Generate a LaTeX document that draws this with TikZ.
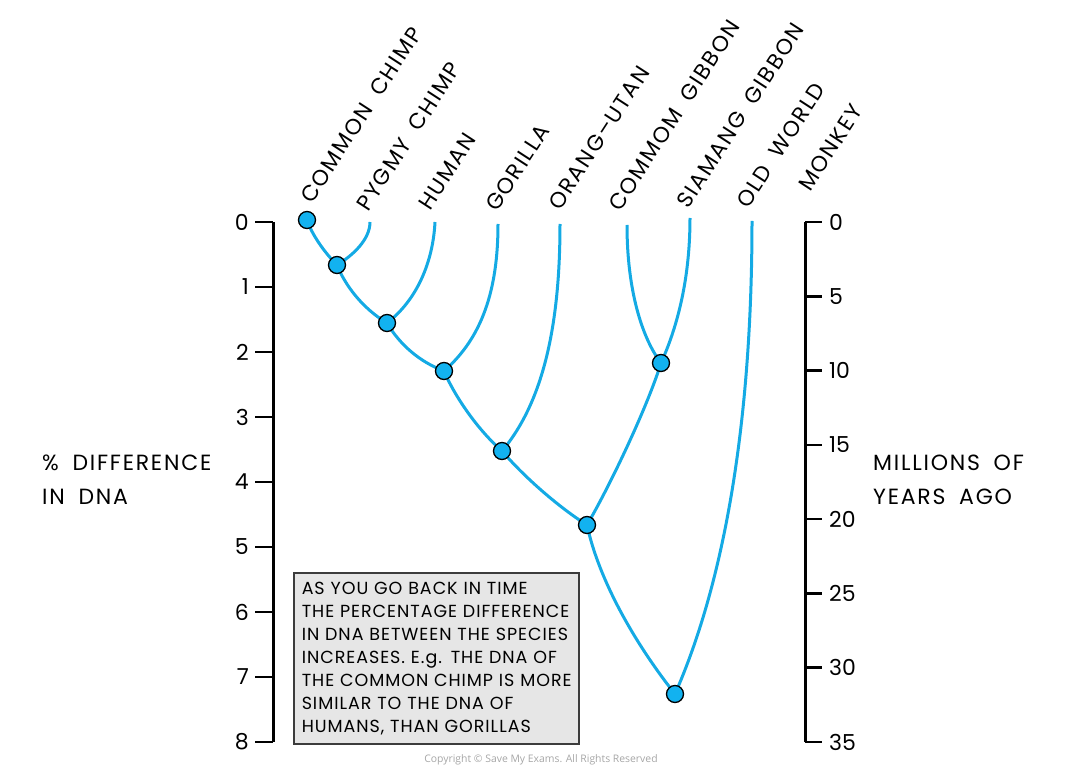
\documentclass[tikz,border=0pt]{standalone}
\usepackage{fontspec}
\setmainfont{Poppins}[LetterSpace=8, WordSpace=1.8]
\newfontfamily\boxfont{Poppins}[LetterSpace=5.5, WordSpace=1.7]
\newfontfamily\numfont{Poppins}
\newfontfamily\copyfont{Open Sans}
\usetikzlibrary{backgrounds}
\definecolor{lineblue}{RGB}{20,170,228}
\definecolor{nodeblue}{RGB}{18,178,240}
\definecolor{boxgray}{RGB}{230,230,230}
\definecolor{boxline}{RGB}{60,60,60}
\begin{document}
\begin{tikzpicture}[x=1pt,y=-1pt,
  br/.style={draw=lineblue, line width=3pt},
  jn/.style={circle, draw=black, fill=nodeblue, line width=1.3pt, minimum size=17pt, inner sep=0pt},
  ax/.style={line width=3pt},
  tk/.style={line width=2.5pt},
  num/.style={font=\numfont\fontsize{22}{26}\selectfont, inner sep=0pt},
  sp/.style={font=\fontsize{22}{26}\selectfont, rotate=57, anchor=base west, inner sep=0pt},
  ttl/.style={font=\fontsize{22}{34}\selectfont, align=left, anchor=west, inner sep=0pt},
]
\useasboundingbox (0,0) rectangle (1080,770);

% axes
\draw[ax] (273,222) -- (273,742);
\foreach \i in {0,...,8} {
  \draw[tk] (255,222+65*\i) -- (273,222+65*\i);
  \node[num, anchor=east] (l\i) at (249,222+65*\i) {\i};
}
\draw[ax] (805,222) -- (805,742);
\foreach \i [evaluate=\i as \v using int(5*\i)] in {0,...,7} {
  \draw[tk] (805,222+74.2857*\i) -- (822,222+74.2857*\i);
  \node[num, anchor=west] (r\i) at (829,222+74.2857*\i) {\v};
}

\node[ttl] (ltitle) at (42,480) {\% DIFFERENCE\\IN DNA};
\node[ttl] (rtitle) at (873,480) {MILLIONS OF\\YEARS AGO};

% tips
\coordinate (tpy) at (370,222);
\coordinate (thu) at (435,222);
\coordinate (tgo) at (498,224);
\coordinate (tor) at (560,224);
\coordinate (tcg) at (627,225);
\coordinate (tsg) at (690,218);
\coordinate (tow) at (752,221);

% junctions
\node[jn] (cc) at (307,220) {};
\node[jn] (n1) at (337,265) {};
\node[jn] (n2) at (387,323) {};
\node[jn] (n3) at (444,371) {};
\node[jn] (n4) at (502,451) {};
\node[jn] (n5) at (587,525) {};
\node[jn] (gn) at (661,363) {};
\node[jn] (rt) at (675,694) {};

\begin{scope}[on background layer]
\draw[br] (cc.center) .. controls (312,235) and (325,253) .. (n1.center);
\draw[br] (tpy) .. controls (370,240) and (352,256) .. (n1.center);
\draw[br] (n1.center) .. controls (345,285) and (362,308) .. (n2.center);
\draw[br] (thu) .. controls (433,262) and (417,300) .. (n2.center);
\draw[br] (n2.center) .. controls (400,345) and (420,362) .. (n3.center);
\draw[br] (tgo) .. controls (498,290) and (482,338) .. (n3.center);
\draw[br] (n3.center) .. controls (455,397) and (478,430) .. (n4.center);
\draw[br] (tor) .. controls (560,320) and (545,400) .. (n4.center);
\draw[br] (n4.center) .. controls (525,478) and (560,508) .. (n5.center);
\draw[br] (tcg) .. controls (627,290) and (642,338) .. (gn.center);
\draw[br] (tsg) .. controls (690,282) and (676,330) .. (gn.center);
\draw[br] (gn.center) .. controls (648,405) and (612,482) .. (n5.center);
\draw[br] (n5.center) .. controls (600,585) and (640,650) .. (rt.center);
\draw[br] (tow) .. controls (752,420) and (725,580) .. (rt.center);
\end{scope}

% species labels
\node[sp] (lcc) at (312,205) {COMMON CHIMP};
\node[sp] (lpy) at (368,213) {PYGMY CHIMP};
\node[sp] (lhu) at (430,212) {HUMAN};
\node[sp] (lgo) at (497,213) {GORILLA};
\node[sp] (lor) at (560,212) {ORANG–UTAN};
\node[sp] (lcg) at (620,213) {COMMOM GIBBON};
\node[sp] (lsg) at (688,210) {SIAMANG GIBBON};
\node[sp] (low) at (748,210) {OLD WORLD};
\node[sp] (lmo) at (810,193) {MONKEY};

% text box
\node[draw=boxline, fill=boxgray, line width=1.5pt, anchor=north west,
      text width=269pt, minimum height=171pt, inner xsep=8pt, inner ysep=4pt,
      align=left, font=\boxfont\fontsize{17.5}{23}\selectfont] (box) at (293,572)
  {AS YOU GO BACK IN TIME\\
   THE PERCENTAGE DIFFERENCE\\
   IN DNA BETWEEN THE SPECIES\\
   INCREASES. E.g. THE DNA OF\\
   THE COMMON CHIMP IS MORE\\
   SIMILAR TO THE DNA OF\\
   HUMANS, THAN GORILLAS};

\node[font=\copyfont\fontsize{10.4}{12}\selectfont, text=black!35] (copy) at (541,760)
  {Copyright © Save My Exams. All Rights Reserved};
\end{tikzpicture}
\end{document}
